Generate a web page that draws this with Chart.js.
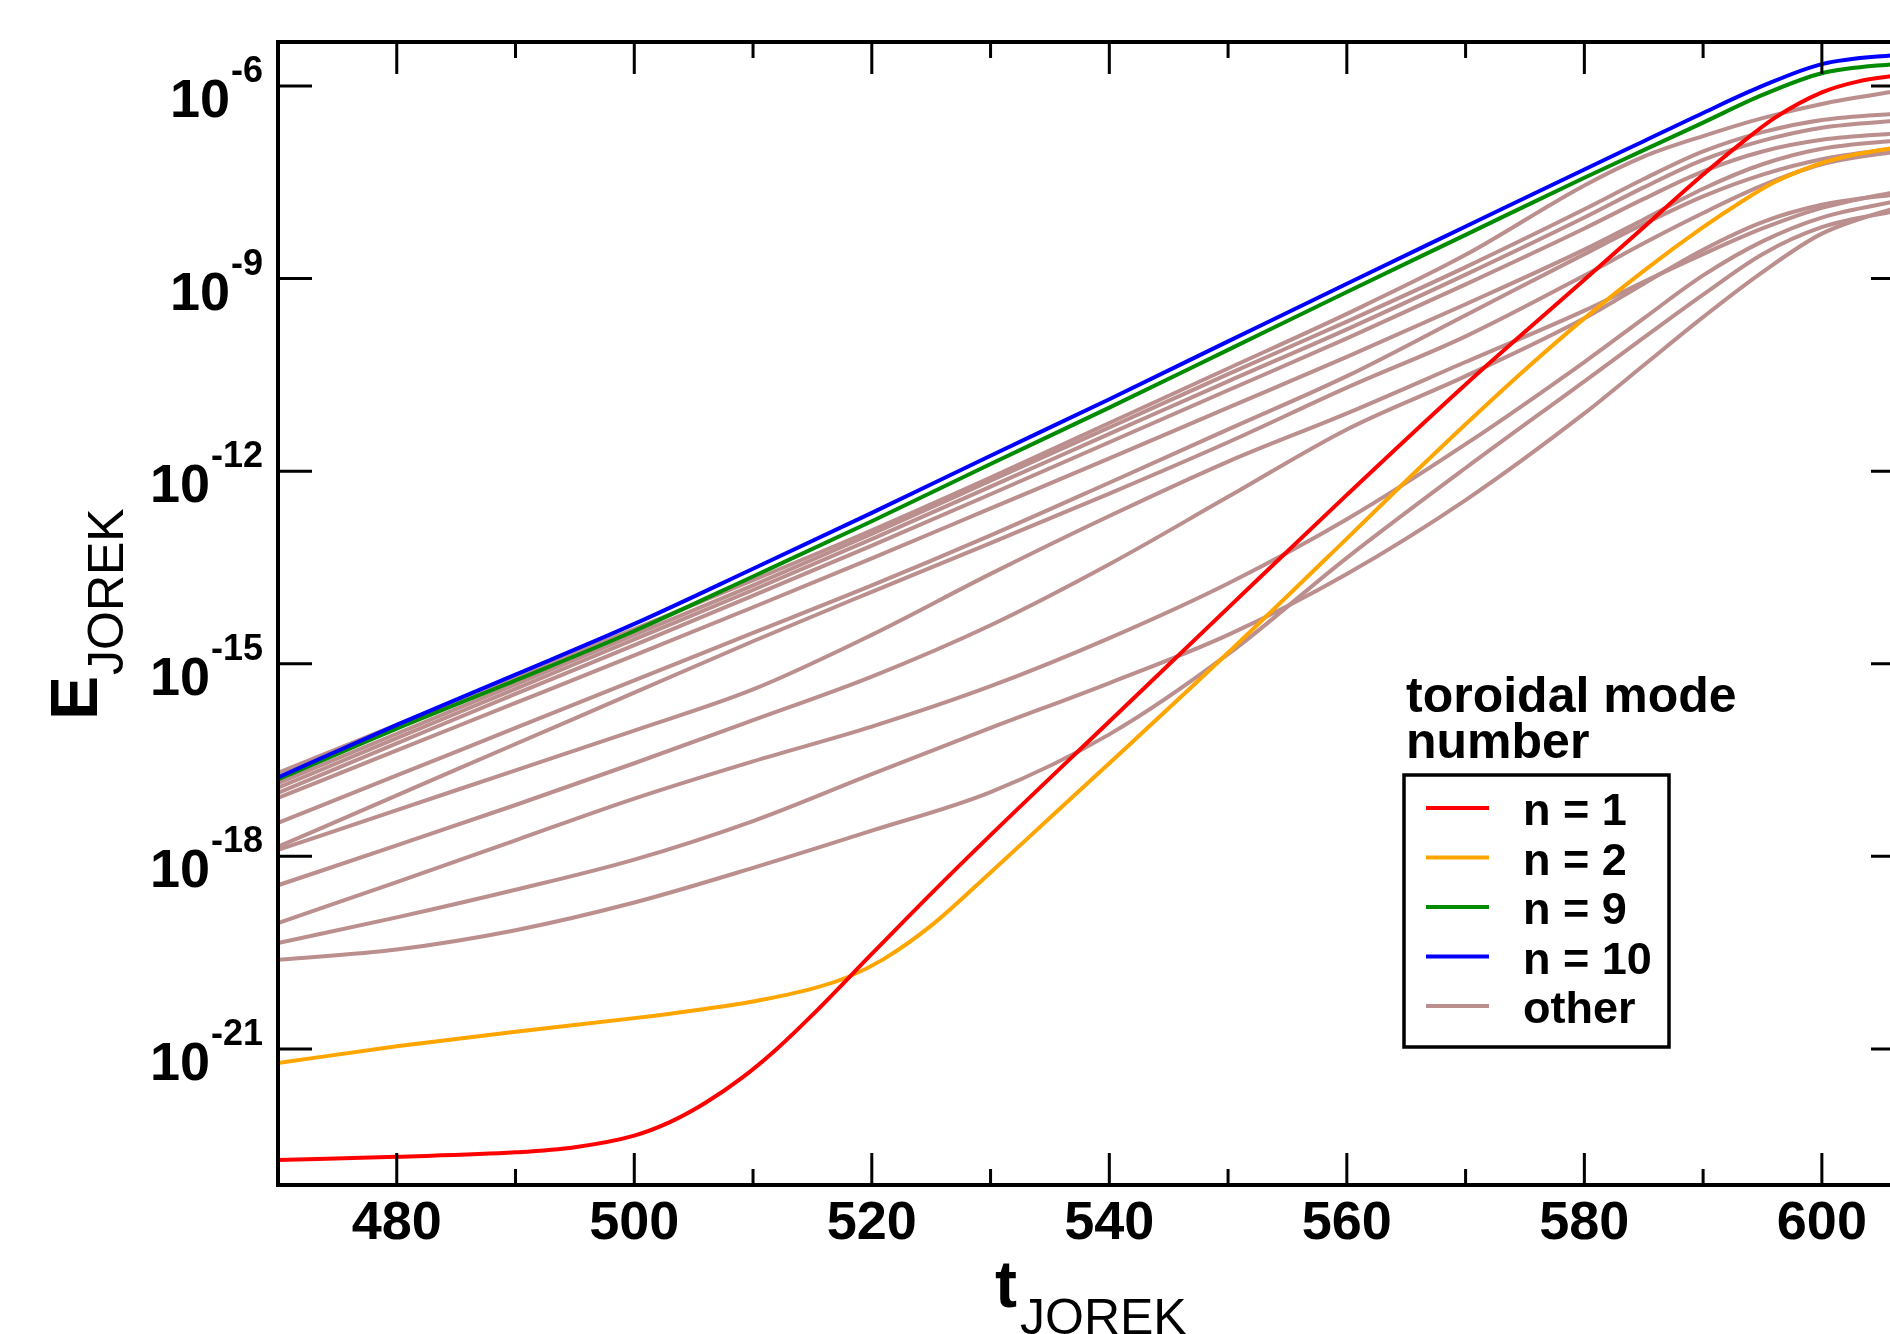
<!DOCTYPE html>
<html>
<head>
<meta charset="utf-8">
<script src="https://cdn.jsdelivr.net/npm/chart.js@4.4.1/dist/chart.umd.min.js"></script>
<style>
html, body { margin: 0; padding: 0; overflow: hidden; background: #fff; width: 1890px; height: 1334px; }
#wrap { position: absolute; left: 0; top: 0; width: 1960px; height: 1334px; }
</style>
</head>
<body>
<div id="wrap"><canvas id="c" width="1960" height="1334"></canvas></div>
<script>
// ---- time grids (t_JOREK) ----
const tMain = [470, 480, 490, 500, 510, 520, 530, 540, 550, 560, 570, 580, 585, 590, 595, 600, 607];
const tN1 = [470, 480, 490, 495, 500, 503, 506, 509, 512, 515, 520, 525, 530, 540, 550, 560, 570, 580, 585, 590, 593, 596, 600, 603, 607];
const tN2 = [470, 480, 490, 500, 505, 510, 515, 518, 521, 525, 530, 535, 540, 550, 560, 565, 570, 575, 580, 585, 590, 593, 596, 600, 603, 607];

// ---- energies E_JOREK per toroidal mode ----
const n1 = [1.86e-23, 2.09e-23, 2.45e-23, 2.95e-23, 4.47e-23, 7.24e-23, 1.45e-22, 3.47e-22, 1.00e-21, 3.39e-21, 3.02e-20, 2.63e-19, 2.14e-18, 1.26e-16, 7.41e-15, 4.27e-13, 2.24e-11, 9.55e-10, 6.31e-9, 4.17e-8, 1.20e-7, 3.16e-7, 7.94e-7, 1.17e-6, 1.51e-6];
const n2 = [6.03e-22, 1.10e-21, 1.86e-21, 3.02e-21, 3.98e-21, 5.50e-21, 8.71e-21, 1.32e-20, 2.51e-20, 8.32e-20, 5.62e-19, 3.98e-18, 2.82e-17, 1.48e-15, 8.91e-14, 7.08e-13, 5.37e-12, 3.80e-11, 2.40e-10, 1.32e-9, 6.31e-9, 1.48e-8, 3.16e-8, 6.31e-8, 8.71e-8, 1.15e-7];
const n9 = [1.58e-17, 9.77e-17, 5.50e-16, 3.24e-15, 2.29e-14, 1.66e-13, 1.29e-12, 9.77e-12, 7.76e-11, 6.17e-10, 4.79e-9, 3.72e-8, 1.00e-7, 2.69e-7, 7.24e-7, 1.58e-6, 2.29e-6];
const n10 = [1.70e-17, 1.12e-16, 6.76e-16, 4.17e-15, 3.02e-14, 2.24e-13, 1.74e-12, 1.32e-11, 1.05e-10, 8.32e-10, 6.46e-9, 5.01e-8, 1.38e-7, 3.80e-7, 1.00e-6, 2.19e-6, 3.16e-6];

const other1 = [2.00e-17, 1.12e-16, 6.31e-16, 3.47e-15, 2.00e-14, 1.20e-13, 7.94e-13, 5.62e-12, 3.98e-11, 2.82e-10, 2.34e-9, 2.82e-8, 7.94e-8, 1.66e-7, 3.16e-7, 5.25e-7, 8.71e-7];
const other2 = [1.38e-17, 8.13e-17, 4.79e-16, 2.82e-15, 1.66e-14, 1.05e-13, 7.08e-13, 4.79e-12, 3.24e-11, 2.14e-10, 1.51e-9, 1.20e-8, 3.55e-8, 9.55e-8, 1.91e-7, 2.95e-7, 3.80e-7];
const other3 = [1.17e-17, 6.92e-17, 4.07e-16, 2.40e-15, 1.41e-14, 8.71e-14, 5.75e-13, 3.80e-12, 2.51e-11, 1.62e-10, 1.15e-9, 8.91e-9, 2.63e-8, 7.08e-8, 1.41e-7, 2.24e-7, 2.95e-7];
const other4 = [9.77e-18, 5.75e-17, 3.39e-16, 1.95e-15, 1.15e-14, 6.92e-14, 4.37e-13, 2.82e-12, 1.82e-11, 1.17e-10, 8.13e-10, 6.03e-9, 1.74e-8, 4.68e-8, 9.55e-8, 1.45e-7, 1.86e-7];
const other5 = [8.13e-18, 4.47e-17, 2.45e-16, 1.35e-15, 7.59e-15, 4.37e-14, 2.63e-13, 1.58e-12, 9.77e-12, 6.03e-11, 3.98e-10, 2.82e-9, 8.32e-9, 2.51e-8, 6.03e-8, 1.05e-7, 1.45e-7];
const other6 = [3.31e-18, 1.82e-17, 1.00e-16, 5.50e-16, 3.02e-15, 1.66e-14, 1.00e-13, 6.61e-13, 4.47e-12, 3.02e-11, 2.69e-10, 2.40e-9, 7.08e-9, 1.91e-8, 4.17e-8, 7.24e-8, 1.12e-7];
const other7 = [1.41e-18, 8.91e-18, 5.62e-17, 3.55e-16, 2.24e-15, 1.32e-14, 7.59e-14, 4.47e-13, 2.82e-12, 2.00e-11, 1.26e-10, 1.12e-9, 3.55e-9, 1.05e-8, 2.82e-8, 6.03e-8, 1.00e-7];
const other8 = [1.26e-18, 5.25e-18, 2.19e-17, 9.12e-17, 3.98e-16, 2.82e-15, 2.51e-14, 2.00e-13, 1.41e-12, 7.94e-12, 5.01e-11, 3.16e-10, 8.91e-10, 2.40e-9, 6.03e-9, 1.26e-8, 2.40e-8];
const other9 = [3.55e-19, 1.48e-18, 6.31e-18, 2.82e-17, 1.32e-16, 6.31e-16, 3.98e-15, 3.55e-14, 3.98e-13, 4.47e-12, 3.02e-11, 2.40e-10, 8.32e-10, 2.82e-9, 7.59e-9, 1.41e-8, 2.14e-8];
const other10 = [9.12e-20, 3.98e-19, 1.78e-18, 7.94e-18, 3.02e-17, 1.05e-16, 4.47e-16, 2.51e-15, 1.78e-14, 1.78e-13, 2.63e-12, 5.01e-11, 2.40e-10, 1.12e-9, 3.80e-9, 8.91e-9, 1.70e-8];
const other11 = [4.47e-20, 1.12e-19, 3.02e-19, 8.91e-19, 3.55e-18, 1.91e-17, 1.00e-16, 5.01e-16, 2.82e-15, 2.51e-14, 3.55e-13, 7.94e-12, 4.47e-11, 2.51e-10, 1.26e-9, 5.01e-9, 1.41e-8];
const other12 = [2.45e-20, 3.55e-20, 7.08e-20, 1.91e-19, 6.61e-19, 2.51e-18, 1.00e-17, 7.94e-17, 1.41e-15, 4.47e-14, 1.12e-12, 2.51e-11, 1.20e-10, 5.62e-10, 2.40e-9, 6.31e-9, 1.20e-8];

// ---- axes ----
const xTickLabels = [480, 500, 520, 540, 560, 580, 600];
const xMinorTicks = [490, 510, 530, 550, 570, 590];
const yTickValues = [1e-6, 1e-9, 1e-12, 1e-15, 1e-18, 1e-21];
const yTickExponents = ['-6', '-9', '-12', '-15', '-18', '-21'];

// ---- texts ----
const xTitle = ['t', 'JOREK'];
const yTitle = ['E', 'JOREK'];
const legendTitle = ['toroidal mode', 'number'];

const C_RED = 'rgb(255,0,0)', C_ORANGE = 'rgb(255,165,0)', C_GREEN = 'rgb(0,139,0)', C_BLUE = 'rgb(0,0,255)', C_OTHER = 'rgb(188,143,143)';

const pts = (ts, vs) => ts.map((t, i) => ({ x: t, y: vs[i] }));
const others = [other1, other2, other3, other4, other5, other6, other7, other8, other9, other10, other11, other12];

const datasets = [
  { label: 'n = 1', data: pts(tN1, n1), borderColor: C_RED, order: 3 },
  { label: 'n = 2', data: pts(tN2, n2), borderColor: C_ORANGE, order: 4 },
  { label: 'n = 9', data: pts(tMain, n9), borderColor: C_GREEN, order: 2 },
  { label: 'n = 10', data: pts(tMain, n10), borderColor: C_BLUE, order: 1 },
];
others.forEach(o => datasets.push({ label: 'other', data: pts(tMain, o), borderColor: C_OTHER, order: 10 }));
const legendIndices = [0, 1, 2, 3, 4];

const FONT = '"Liberation Sans", Arial, Helvetica, sans-serif';

const decor = {
  id: 'decor',
  afterDatasetsDraw(chart) {
    const ctx = chart.ctx, a = chart.chartArea, xs = chart.scales.x, ys = chart.scales.y;
    ctx.save();
    ctx.strokeStyle = '#000';
    ctx.fillStyle = '#000';
    ctx.lineCap = 'butt';
    // tick marks (inward)
    ctx.lineWidth = 3;
    ctx.beginPath();
    xTickLabels.forEach(v => {
      const p = xs.getPixelForValue(v);
      ctx.moveTo(p, a.bottom); ctx.lineTo(p, a.bottom - 32);
      ctx.moveTo(p, a.top); ctx.lineTo(p, a.top + 32);
    });
    xMinorTicks.forEach(v => {
      const p = xs.getPixelForValue(v);
      ctx.moveTo(p, a.bottom); ctx.lineTo(p, a.bottom - 16);
      ctx.moveTo(p, a.top); ctx.lineTo(p, a.top + 16);
    });
    yTickValues.forEach(v => {
      const p = ys.getPixelForValue(v);
      ctx.moveTo(a.left, p); ctx.lineTo(a.left + 34, p);
      ctx.moveTo(a.right, p); ctx.lineTo(a.right - 34, p);
    });
    ctx.stroke();
    // frame
    ctx.lineWidth = 4;
    ctx.strokeRect(a.left, a.top, a.right - a.left, a.bottom - a.top);

    // y tick labels 10^n
    ctx.textAlign = 'right';
    ctx.textBaseline = 'alphabetic';
    yTickValues.forEach((v, i) => {
      const p = ys.getPixelForValue(v);
      const xr = a.left - 15;
      ctx.font = 'bold 36px ' + FONT;
      ctx.fillText(yTickExponents[i], xr, p - 4);
      const w = ctx.measureText(yTickExponents[i]).width;
      ctx.font = 'bold 54px ' + FONT;
      ctx.fillText('10', xr - w - 1, p + 31);
    });

    // x axis title
    ctx.textAlign = 'left';
    ctx.font = 'bold 66px ' + FONT;
    ctx.fillText(xTitle[0], 995, 1307);
    ctx.font = '50px ' + FONT;
    ctx.fillText(xTitle[1], 1020, 1334);

    // y axis title (rotated)
    ctx.save();
    ctx.translate(97, 720);
    ctx.rotate(-Math.PI / 2);
    ctx.font = 'bold 66px ' + FONT;
    ctx.fillText(yTitle[0], 0, 0);
    ctx.restore();
    ctx.save();
    ctx.translate(123, 675);
    ctx.rotate(-Math.PI / 2);
    ctx.font = '50px ' + FONT;
    ctx.fillText(yTitle[1], 0, 0);
    ctx.restore();

    // legend
    ctx.font = 'bold 50px ' + FONT;
    ctx.fillText(legendTitle[0], 1406, 712);
    ctx.fillText(legendTitle[1], 1406, 758);
    ctx.lineWidth = 3.5;
    ctx.strokeRect(1404, 775, 265, 272);
    ctx.font = 'bold 45px ' + FONT;
    legendIndices.forEach((di, i) => {
      const ds = chart.data.datasets[di];
      const by = 825 + i * 49.5;
      ctx.strokeStyle = ds.borderColor;
      ctx.lineWidth = 4;
      ctx.beginPath();
      ctx.moveTo(1426, by - 17);
      ctx.lineTo(1489, by - 17);
      ctx.stroke();
      ctx.fillStyle = '#000';
      ctx.fillText(ds.label, 1523, by);
    });
    ctx.restore();
  }
};

new Chart(document.getElementById('c'), {
  type: 'line',
  data: { datasets },
  options: {
    responsive: false,
    animation: false,
    devicePixelRatio: 1,
    layout: { padding: { left: 278, top: 42, right: 55, bottom: 79 } },
    plugins: { legend: { display: false }, tooltip: { enabled: false } },
    elements: {
      point: { radius: 0 },
      line: { borderWidth: 4, cubicInterpolationMode: 'monotone', fill: false }
    },
    scales: {
      x: {
        type: 'linear',
        min: 470,
        max: 607,
        afterBuildTicks: s => { s.ticks = xTickLabels.map(v => ({ value: v })); },
        afterFit: s => { s.height = 70; },
        grid: { display: false, drawTicks: false },
        border: { display: false },
        ticks: {
          color: '#000',
          padding: 7,
          maxRotation: 0,
          autoSkip: false,
          font: { family: FONT, size: 54, weight: 'bold' }
        }
      },
      y: {
        type: 'logarithmic',
        min: 7.6e-24,
        max: 4.84e-6,
        display: false,
        afterBuildTicks: s => { s.ticks = yTickValues.map(v => ({ value: v })); }
      }
    }
  },
  plugins: [decor]
});
</script>
</body>
</html>
